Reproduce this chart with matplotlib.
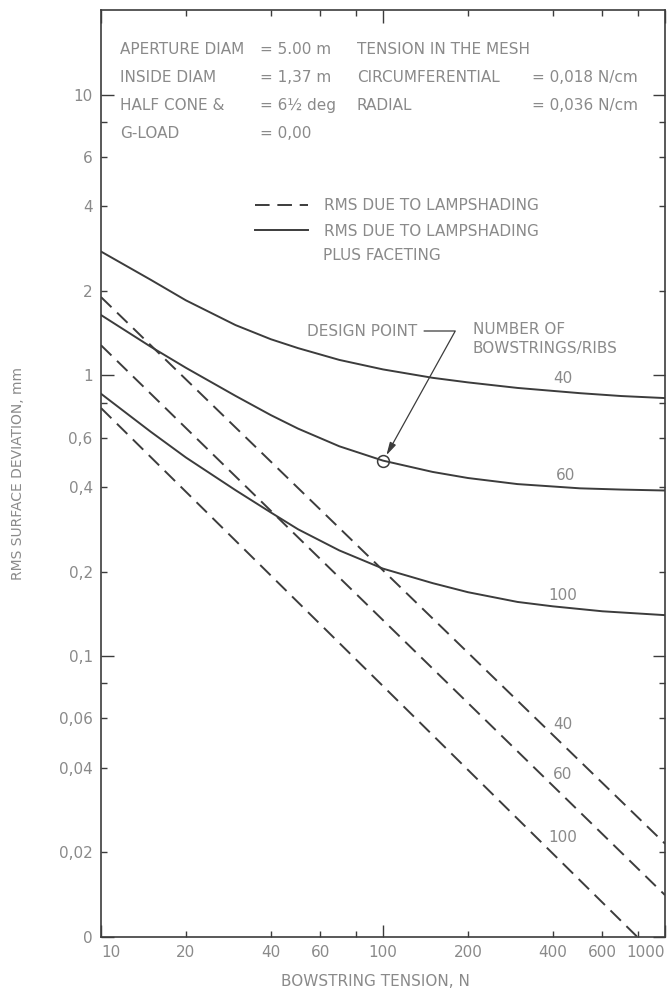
import numpy as np
import matplotlib
matplotlib.use("Agg")
import matplotlib.pyplot as plt
from matplotlib.ticker import FixedLocator, FixedFormatter

# bowstring tension (N) vs rms surface deviation (mm)
# dashed: rms due to lampshading
lamp_T = [10, 1000]
lamp40 = [1.90, 0.0215]
lamp60 = [1.28, 0.0141]
lamp100 = [0.765, 0.0080]

# solid: lampshading plus faceting
fac40_T = [10, 15, 20, 30, 40, 50, 70, 100, 150, 200, 300, 500, 700, 1000]
fac40 = [2.76, 2.19, 1.85, 1.51, 1.345, 1.25, 1.135, 1.05, 0.98, 0.944, 0.902, 0.864, 0.844, 0.83]
fac60_T = [10, 15, 20, 30, 40, 50, 70, 100, 150, 200, 300, 500, 700, 1000]
fac60 = [1.64, 1.265, 1.064, 0.845, 0.722, 0.646, 0.559, 0.497, 0.453, 0.431, 0.41, 0.396, 0.392, 0.389]
fac100_T = [10, 15, 20, 30, 40, 50, 70, 100, 150, 200, 300, 400, 600, 1000]
fac100 = [0.86, 0.63, 0.51, 0.39, 0.325, 0.283, 0.238, 0.205, 0.182, 0.169, 0.156, 0.1505, 0.1445, 0.14]

design_T = [100]
design_rms = [0.494]

ribs = ["40", "60", "100"]

x_major = [10, 100, 1000]
x_major_lbl = ["10", "100", "1000"]
x_minor = [20, 40, 60, 80, 200, 400, 600, 800]
x_minor_lbl = ["20", "40", "60", "", "200", "400", "600", ""]
y_major = [0.01, 0.1, 1, 10]
y_major_lbl = ["0", "0,1", "1", "10"]
y_minor = [0.02, 0.04, 0.06, 0.08, 0.2, 0.4, 0.6, 0.8, 2, 4, 6, 8]
y_minor_lbl = ["0,02", "0,04", "0,06", "", "0,2", "0,4", "0,6", "", "2", "4", "6", ""]

LINE = "#3c3c3c"
TXT = "#8a8a8a"
FS = 11
W, H = 669, 991

plt.rcParams['font.family'] = ['DejaVu Sans']

fig = plt.figure(figsize=(W / 100, H / 100), dpi=100)
fig.patch.set_facecolor("white")
ax = fig.add_axes([101 / W, 1 - 937 / H, 564 / W, 927 / H])

def px(x, y):
    return x / W, 1 - y / H

dash = (7.5, 4)
lw = 1.4
ld = None
for v in (lamp40, lamp60, lamp100):
    l, = ax.plot(lamp_T, v, color=LINE, lw=lw, dashes=dash)
    if ld is None:
        ld = l
ls = None
for t, v in ((fac40_T, fac40), (fac60_T, fac60), (fac100_T, fac100)):
    l, = ax.plot(t, v, color=LINE, lw=lw)
    if ls is None:
        ls = l

ax.plot(design_T, design_rms, 'o', mfc='none', mec=LINE, ms=8.5, mew=1.1)

ax.set_xscale('log')
ax.set_yscale('log')
ax.set_xlim(10, 1000)
ax.set_ylim(0.01, 20)

ax.xaxis.set_major_locator(FixedLocator(x_major))
ax.xaxis.set_major_formatter(FixedFormatter(x_major_lbl))
ax.xaxis.set_minor_locator(FixedLocator(x_minor))
ax.xaxis.set_minor_formatter(FixedFormatter(x_minor_lbl))
ax.yaxis.set_major_locator(FixedLocator(y_major))
ax.yaxis.set_major_formatter(FixedFormatter(y_major_lbl))
ax.yaxis.set_minor_locator(FixedLocator(y_minor))
ax.yaxis.set_minor_formatter(FixedFormatter(y_minor_lbl))

ax.tick_params(which='both', direction='in', top=True, right=True,
               color=LINE, width=1.0, labelcolor=TXT, labelsize=FS, pad=6)
ax.tick_params(which='major', length=9)
ax.tick_params(which='minor', length=4.5)
for s in ax.spines.values():
    s.set_color(LINE)
    s.set_linewidth(1.2)

xl = ax.get_xticklabels()
xl[0].set_ha('left')
xl[-1].set_ha('right')

ax.set_xlabel("BOWSTRING TENSION, N", color=TXT, fontsize=FS)
ax.xaxis.set_label_coords(0.486, -0.040)
ax.set_ylabel("RMS SURFACE DEVIATION, mm", color=TXT, fontsize=FS - 1)
ax.yaxis.set_label_coords(-0.135, 0.5)

# parameter block at top
rows = [("APERTURE DIAM", "= 5.00 m"), ("INSIDE DIAM", "= 1,37 m"),
        ("HALF CONE &", "= 6½ deg"), ("G-LOAD", "= 0,00")]
for i, (a, b) in enumerate(rows):
    yy = 50 + 27.7 * i
    fig.text(*px(120, yy), a, color=TXT, fontsize=FS, va='center')
    fig.text(*px(260, yy), b, color=TXT, fontsize=FS, va='center')
fig.text(*px(357, 50), "TENSION IN THE MESH", color=TXT, fontsize=FS, va='center')
fig.text(*px(357, 78), "CIRCUMFERENTIAL", color=TXT, fontsize=FS, va='center')
fig.text(*px(638, 78), "= 0,018 N/cm", color=TXT, fontsize=FS, va='center', ha='right')
fig.text(*px(357, 106), "RADIAL", color=TXT, fontsize=FS, va='center')
fig.text(*px(638, 106), "= 0,036 N/cm", color=TXT, fontsize=FS, va='center', ha='right')

# legend
leg = ax.legend([ld, ls], ["RMS DUE TO LAMPSHADING", "RMS DUE TO LAMPSHADING"],
                loc='upper left', bbox_to_anchor=((255 - 101) / 564, (937 - 198) / 927),
                frameon=False, fontsize=FS, borderpad=0, borderaxespad=0,
                handlelength=3.5, handletextpad=1.0, labelspacing=0.7)
for t in leg.get_texts():
    t.set_color(TXT)
fig.text(*px(323, 255), "PLUS FACETING", color=TXT, fontsize=FS, va='center')

# design point
ax.annotate("DESIGN POINT", xy=(design_T[0], design_rms[0]),
            xytext=(362, H - 331), textcoords='figure pixels',
            ha='center', va='center', color=TXT, fontsize=FS,
            arrowprops=dict(arrowstyle='-|>,head_length=0.7,head_width=0.18',
                            connectionstyle='angle,angleA=0,angleB=61,rad=0',
                            color=LINE, lw=0.9, shrinkA=3, shrinkB=5))
fig.text(*px(473, 339), "NUMBER OF\nBOWSTRINGS/RIBS", color=TXT, fontsize=FS,
         va='center', linespacing=1.4)

# curve labels
solid_lbl_T = [435, 444, 435]
solid_lbl_v = [0.975, 0.44, 0.165]
dash_lbl_T = [435, 435, 435]
dash_lbl_v = [0.057, 0.038, 0.0226]
for n, t, v in zip(ribs, solid_lbl_T, solid_lbl_v):
    ax.text(t, v, n, color=TXT, fontsize=FS, ha='center', va='center')
for n, t, v in zip(ribs, dash_lbl_T, dash_lbl_v):
    ax.text(t, v, n, color=TXT, fontsize=FS, ha='center', va='center')

fig.savefig("out.png", dpi=100, facecolor="white")
